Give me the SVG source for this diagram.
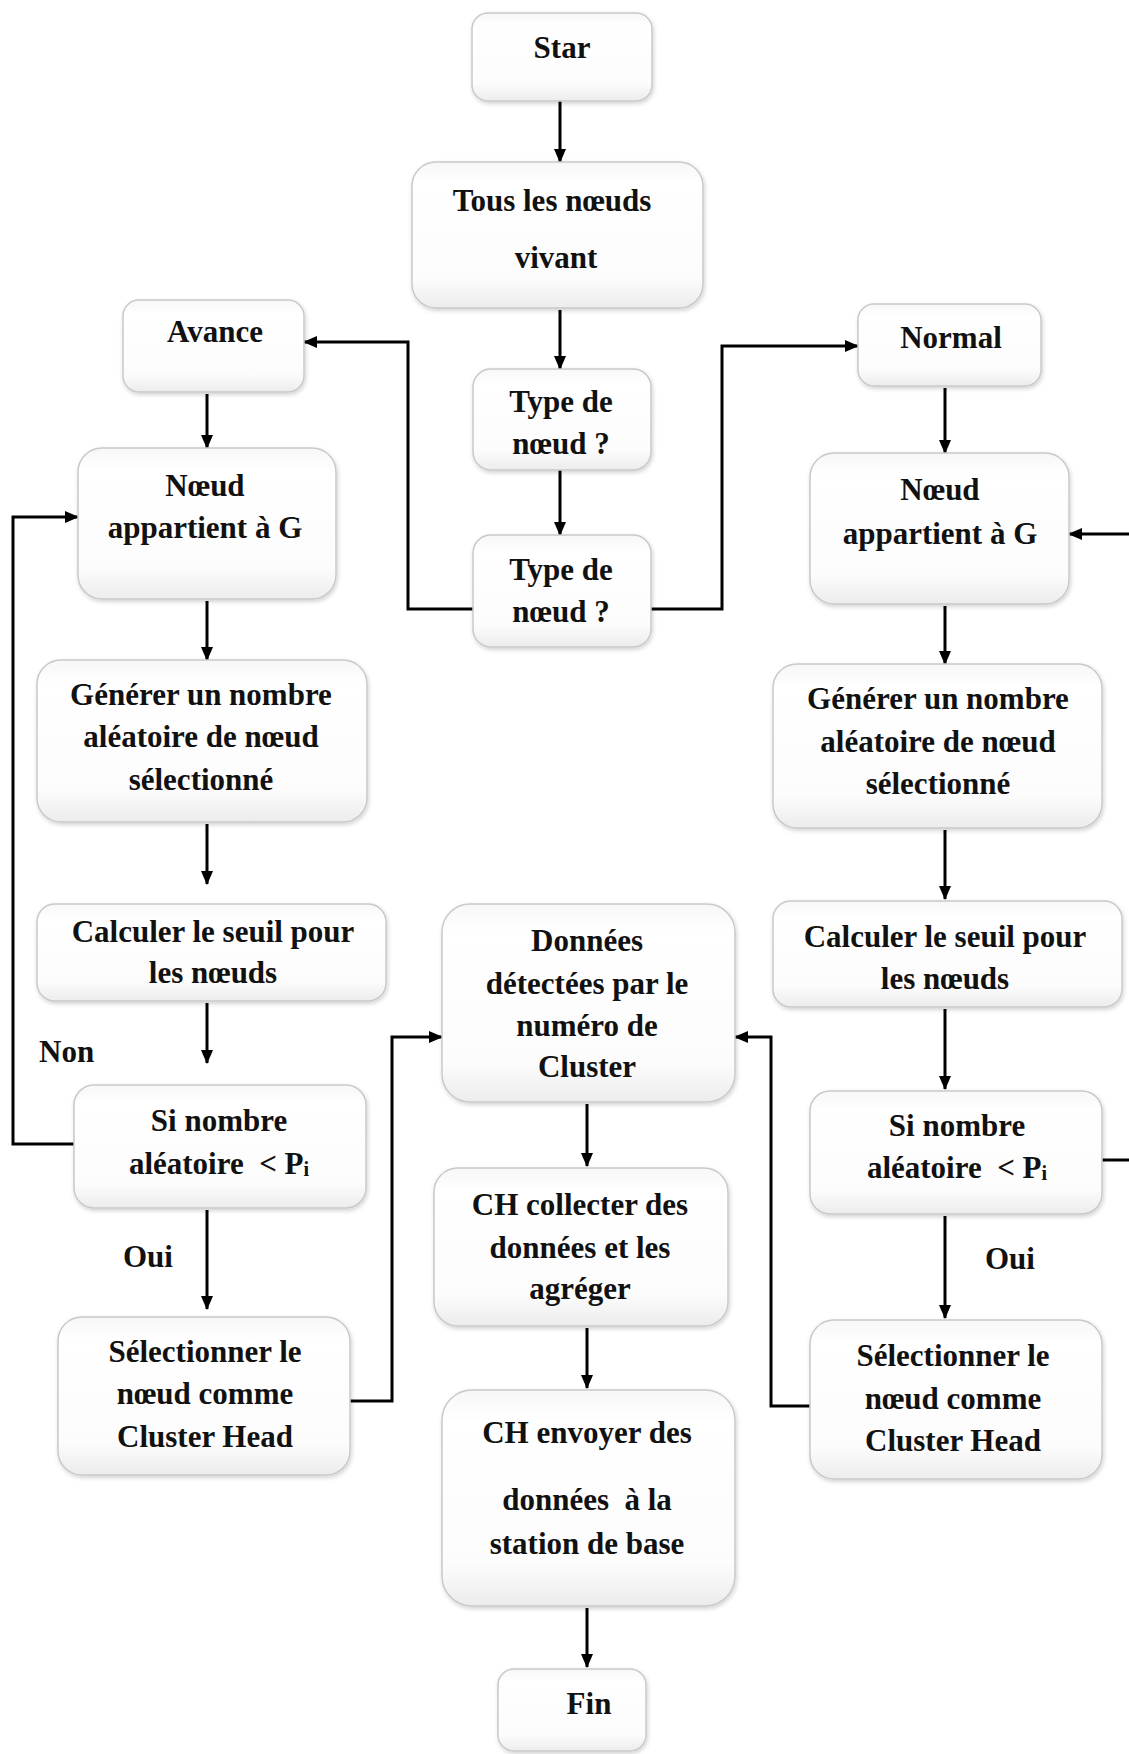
<svg xmlns="http://www.w3.org/2000/svg" width="1129" height="1754" viewBox="0 0 1129 1754">
<style>
.box{fill:url(#bg);stroke:#c9c9c9;stroke-width:1.5;filter:url(#sh)}
.t{font-family:"Liberation Serif","Times New Roman",serif;font-weight:bold;font-size:31px;fill:#111;text-anchor:middle}
.lbl{font-family:"Liberation Serif","Times New Roman",serif;font-weight:bold;font-size:31px;fill:#111}
.c{fill:none;stroke:#000;stroke-width:3}
.sub{font-size:20px}
</style>
<defs>
<linearGradient id="bg" x1="0" y1="0" x2="0" y2="1">
<stop offset="0" stop-color="#f7f7f7"/>
<stop offset="0.15" stop-color="#ffffff"/>
<stop offset="0.8" stop-color="#fcfcfc"/>
<stop offset="1" stop-color="#ececec"/>
</linearGradient>
<filter id="sh" x="-10%" y="-10%" width="120%" height="120%">
<feDropShadow dx="1" dy="2" stdDeviation="2" flood-color="#000" flood-opacity="0.18"/>
</filter>
<marker id="ah" markerWidth="14" markerHeight="12" refX="13" refY="6" orient="auto" markerUnits="userSpaceOnUse">
<path d="M0,0 L14,6 L0,12 Z" fill="#000"/>
</marker>
</defs>

<g id="connectors">
<path class="c" d="M560,101 V162" marker-end="url(#ah)"/>
<path class="c" d="M560,310 V369" marker-end="url(#ah)"/>
<path class="c" d="M560,470 V535" marker-end="url(#ah)"/>
<path class="c" d="M473,609 H408 V342 H304" marker-end="url(#ah)"/>
<path class="c" d="M651,609 H722 V346 H858" marker-end="url(#ah)"/>
<path class="c" d="M207,394 V448" marker-end="url(#ah)"/>
<path class="c" d="M207,601 V660" marker-end="url(#ah)"/>
<path class="c" d="M207,824 V884" marker-end="url(#ah)"/>
<path class="c" d="M207,1003 V1063" marker-end="url(#ah)"/>
<path class="c" d="M74,1144 H13 V517 H78" marker-end="url(#ah)"/>
<path class="c" d="M207,1210 V1309" marker-end="url(#ah)"/>
<path class="c" d="M350,1401 H392 V1037 H442" marker-end="url(#ah)"/>
<path class="c" d="M587,1104 V1166" marker-end="url(#ah)"/>
<path class="c" d="M587,1328 V1388" marker-end="url(#ah)"/>
<path class="c" d="M587,1608 V1667" marker-end="url(#ah)"/>
<path class="c" d="M945,388 V453" marker-end="url(#ah)"/>
<path class="c" d="M1129,534 H1069" marker-end="url(#ah)"/>
<path class="c" d="M945,606 V664" marker-end="url(#ah)"/>
<path class="c" d="M945,830 V899" marker-end="url(#ah)"/>
<path class="c" d="M945,1009 V1089" marker-end="url(#ah)"/>
<path class="c" d="M1102,1160 H1129"/>
<path class="c" d="M945,1216 V1318" marker-end="url(#ah)"/>
<path class="c" d="M810,1406 H771 V1037 H735" marker-end="url(#ah)"/>
</g>

<g id="labels">
<text class="lbl" x="39" y="1062">Non</text>
<text class="lbl" x="123" y="1267">Oui</text>
<text class="lbl" x="985" y="1269">Oui</text>
</g>

<g id="star"><rect class="box" x="472" y="13" width="180" height="88" rx="16"/><text class="t" x="562" y="58">Star</text></g>
<g id="tous"><rect class="box" x="412" y="162" width="291" height="146" rx="24"/><text class="t" x="552" y="211">Tous les nœuds</text><text class="t" x="556" y="268">vivant</text></g>
<g id="type1"><rect class="box" x="473" y="369" width="178" height="101" rx="18"/><text class="t" x="561" y="412">Type de</text><text class="t" x="561" y="454">nœud ?</text></g>
<g id="type2"><rect class="box" x="473" y="535" width="178" height="112" rx="18"/><text class="t" x="561" y="580">Type de</text><text class="t" x="561" y="622">nœud ?</text></g>
<g id="avance"><rect class="box" x="123" y="300" width="181" height="92" rx="16"/><text class="t" x="215" y="342">Avance</text></g>
<g id="normal"><rect class="box" x="858" y="304" width="183" height="82" rx="16"/><text class="t" x="951" y="348">Normal</text></g>
<g id="noeudL"><rect class="box" x="78" y="448" width="258" height="151" rx="24"/><text class="t" x="205" y="496">Nœud</text><text class="t" x="205" y="538">appartient à G</text></g>
<g id="genererL"><rect class="box" x="37" y="660" width="330" height="162" rx="24"/><text class="t" x="201" y="705">Générer un nombre</text><text class="t" x="201" y="747">aléatoire de nœud</text><text class="t" x="201" y="790">sélectionné</text></g>
<g id="calculerL"><rect class="box" x="37" y="904" width="349" height="97" rx="18"/><text class="t" x="213" y="942">Calculer le seuil pour</text><text class="t" x="213" y="983">les nœuds</text></g>
<g id="siL"><rect class="box" x="74" y="1085" width="292" height="123" rx="20"/><text class="t" x="219" y="1131">Si nombre</text><text class="t" x="219" y="1174">aléatoire&#160; &lt; P<tspan class="sub" dy="2">i</tspan></text></g>
<g id="selL"><rect class="box" x="58" y="1317" width="292" height="158" rx="24"/><text class="t" x="205" y="1362">Sélectionner le</text><text class="t" x="205" y="1404">nœud comme</text><text class="t" x="205" y="1447">Cluster Head</text></g>
<g id="donnees"><rect class="box" x="442" y="904" width="293" height="198" rx="28"/><text class="t" x="587" y="951">Données</text><text class="t" x="587" y="994">détectées par le</text><text class="t" x="587" y="1036">numéro de</text><text class="t" x="587" y="1077">Cluster</text></g>
<g id="collecter"><rect class="box" x="434" y="1168" width="294" height="158" rx="24"/><text class="t" x="580" y="1215">CH collecter des</text><text class="t" x="580" y="1258">données et les</text><text class="t" x="580" y="1299">agréger</text></g>
<g id="envoyer"><rect class="box" x="442" y="1390" width="293" height="216" rx="30"/><text class="t" x="587" y="1443">CH envoyer des</text><text class="t" x="587" y="1510">données&#160; à la</text><text class="t" x="587" y="1554">station de base</text></g>
<g id="fin"><rect class="box" x="498" y="1669" width="148" height="82" rx="16"/><text class="t" x="589" y="1714">Fin</text></g>
<g id="noeudR"><rect class="box" x="810" y="453" width="259" height="151" rx="24"/><text class="t" x="940" y="500">Nœud</text><text class="t" x="940" y="544">appartient à G</text></g>
<g id="genererR"><rect class="box" x="773" y="664" width="329" height="164" rx="24"/><text class="t" x="938" y="709">Générer un nombre</text><text class="t" x="938" y="752">aléatoire de nœud</text><text class="t" x="938" y="794">sélectionné</text></g>
<g id="calculerR"><rect class="box" x="773" y="901" width="349" height="106" rx="18"/><text class="t" x="945" y="947">Calculer le seuil pour</text><text class="t" x="945" y="989">les nœuds</text></g>
<g id="siR"><rect class="box" x="810" y="1091" width="292" height="123" rx="20"/><text class="t" x="957" y="1136">Si nombre</text><text class="t" x="957" y="1178">aléatoire&#160; &lt; P<tspan class="sub" dy="2">i</tspan></text></g>
<g id="selR"><rect class="box" x="810" y="1320" width="292" height="159" rx="24"/><text class="t" x="953" y="1366">Sélectionner le</text><text class="t" x="953" y="1409">nœud comme</text><text class="t" x="953" y="1451">Cluster Head</text></g>
</svg>
